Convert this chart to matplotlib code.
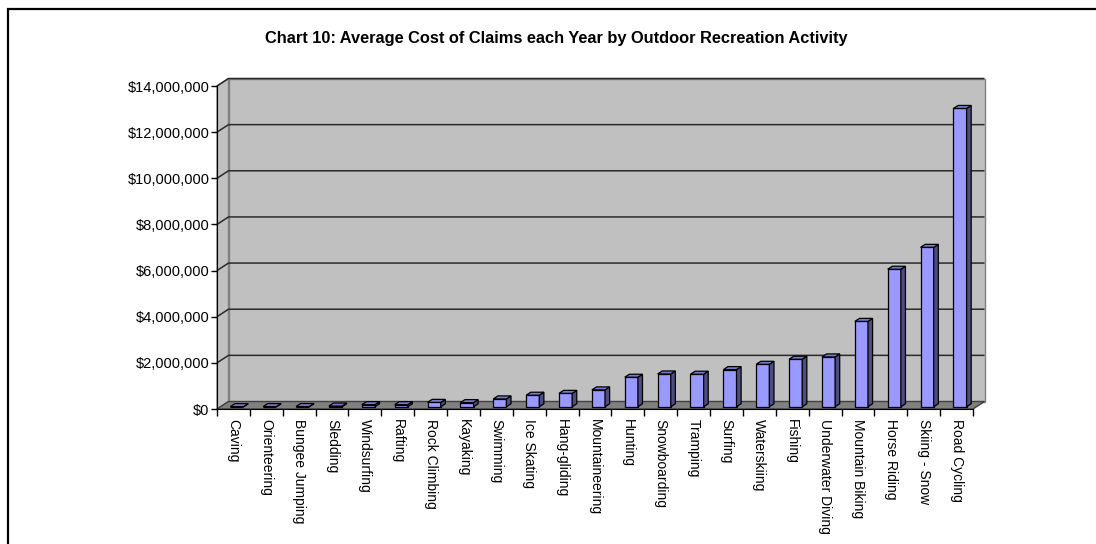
import matplotlib
matplotlib.use("Agg")
import matplotlib.pyplot as plt
from matplotlib.patches import Polygon, Rectangle
from matplotlib.ticker import FuncFormatter

plt.rcParams['font.family'] = ['Liberation Sans', 'DejaVu Sans']

activities = ["Caving", "Orienteering", "Bungee Jumping", "Sledding", "Windsurfing",
              "Rafting", "Rock Climbing", "Kayaking", "Swimming", "Ice Skating",
              "Hang-gliding", "Mountaineering", "Hunting", "Snowboarding", "Tramping",
              "Surfing", "Waterskiing", "Fishing", "Underwater Diving", "Mountain Biking",
              "Horse Riding", "Skiing - Snow", "Road Cycling"]
avg_cost = [5000, 8000, 10000, 30000, 90000,
            90000, 190000, 180000, 340000, 500000,
            580000, 730000, 1280000, 1420000, 1410000,
            1610000, 1840000, 2060000, 2160000, 3700000,
            5960000, 6910000, 12930000]
y_ticks = [0, 2000000, 4000000, 6000000, 8000000, 10000000, 12000000, 14000000]
title = "Chart 10: Average Cost of Claims each Year by Outdoor Recreation Activity"

W, H = 1096, 544
fig = plt.figure(figsize=(W / 100, H / 100), dpi=100)

# front frame of the 3-D plot area, in pixels
px_left, px_right, px_bottom, px_top = 217, 973, 409, 86
ax = fig.add_axes([px_left / W, 1 - px_bottom / H,
                   (px_right - px_left) / W, (px_bottom - px_top) / H])

n = len(activities)
ymax = y_ticks[-1]
ax.set_xlim(0, n)
ax.set_ylim(0, ymax)

# depth of the plot box expressed in data units
xu = n / (px_right - px_left)          # data units per pixel (x)
yu = ymax / (px_bottom - px_top)       # data units per pixel (y)
dx, dy = 11.5 * xu, 7.5 * yu

wall = "#C0C0C0"
edge = "#808080"
common = dict(clip_on=False)

# walls and floor
ax.add_patch(Polygon([(dx, dy), (n + dx, dy), (n + dx, ymax + dy), (dx, ymax + dy)],
                     closed=True, facecolor=wall, edgecolor=edge, lw=1, zorder=1, **common))
ax.add_patch(Polygon([(0, 0), (dx, dy), (dx, ymax + dy), (0, ymax)],
                     closed=True, facecolor=wall, edgecolor=edge, lw=1, zorder=1, **common))
ax.add_patch(Polygon([(0, 0), (n, 0), (n + dx, dy), (dx, dy)],
                     closed=True, facecolor="#808080", edgecolor="#404040", lw=1, zorder=1.5, **common))

# gridlines on side wall and back wall
for v in y_ticks[1:]:
    ax.plot([0, dx, n + dx], [v, v + dy, v + dy], color="#2a2a2a", lw=1.1,
            zorder=1.2, solid_capstyle="butt", **common)

# 3-D columns
bar_w = 0.40
d0, d1 = 0.3, 0.7
front_c, side_c, top_c = "#9999FF", "#4D4D80", "#7A7ACC"
xs = [i + 0.5 - bar_w / 2 + d0 * dx for i in range(n)]
bars = ax.bar(xs, avg_cost, width=bar_w, bottom=d0 * dy, align="edge",
              color=front_c, edgecolor="black", lw=0.9, zorder=3)
for rect, v in zip(bars, avg_cost):
    x0 = rect.get_x()
    x1 = x0 + rect.get_width()
    y0 = rect.get_y()
    y1 = y0 + v
    ddx, ddy = (d1 - d0) * dx, (d1 - d0) * dy
    ax.add_patch(Polygon([(x1, y0), (x1 + ddx, y0 + ddy), (x1 + ddx, y1 + ddy), (x1, y1)],
                         closed=True, facecolor=side_c, edgecolor="black", lw=0.9,
                         zorder=3, **common))
    ax.add_patch(Polygon([(x0, y1), (x1, y1), (x1 + ddx, y1 + ddy), (x0 + ddx, y1 + ddy)],
                         closed=True, facecolor=top_c, edgecolor="black", lw=0.9,
                         zorder=3, **common))

# axes lines and ticks
for s in ["top", "right"]:
    ax.spines[s].set_visible(False)
ax.spines["left"].set_color("black")
ax.spines["bottom"].set_color("black")
ax.spines["left"].set_zorder(4)
ax.spines["bottom"].set_zorder(4)
ax.patch.set_visible(False)

ax.set_yticks(y_ticks)
ax.yaxis.set_major_formatter(FuncFormatter(lambda v, p: "${:,.0f}".format(v)))
ax.tick_params(axis="y", direction="out", length=4, width=1, pad=1.5,
               labelsize=10.5, colors="black")

ax.set_xticks(range(n + 1))
ax.set_xticklabels([])
ax.tick_params(axis="x", which="major", direction="out", length=5, width=1)
ax.set_xticks([i + 0.5 for i in range(n)], minor=True)
ax.set_xticklabels(activities, minor=True, rotation=270, fontsize=10,
                   ha="center", va="top")
ax.tick_params(axis="x", which="minor", length=0, pad=7)

fig.text(556 / W, 1 - 38 / H, title, ha="center", va="center",
         fontsize=11.8, fontweight="bold")

# chart border
fig.patches.append(Rectangle((8 / W, -0.1), 1.2, 1 - 9 / H + 0.1,
                             transform=fig.transFigure, fill=False,
                             edgecolor="black", lw=1.6))

fig.savefig("out.png", dpi=100)
